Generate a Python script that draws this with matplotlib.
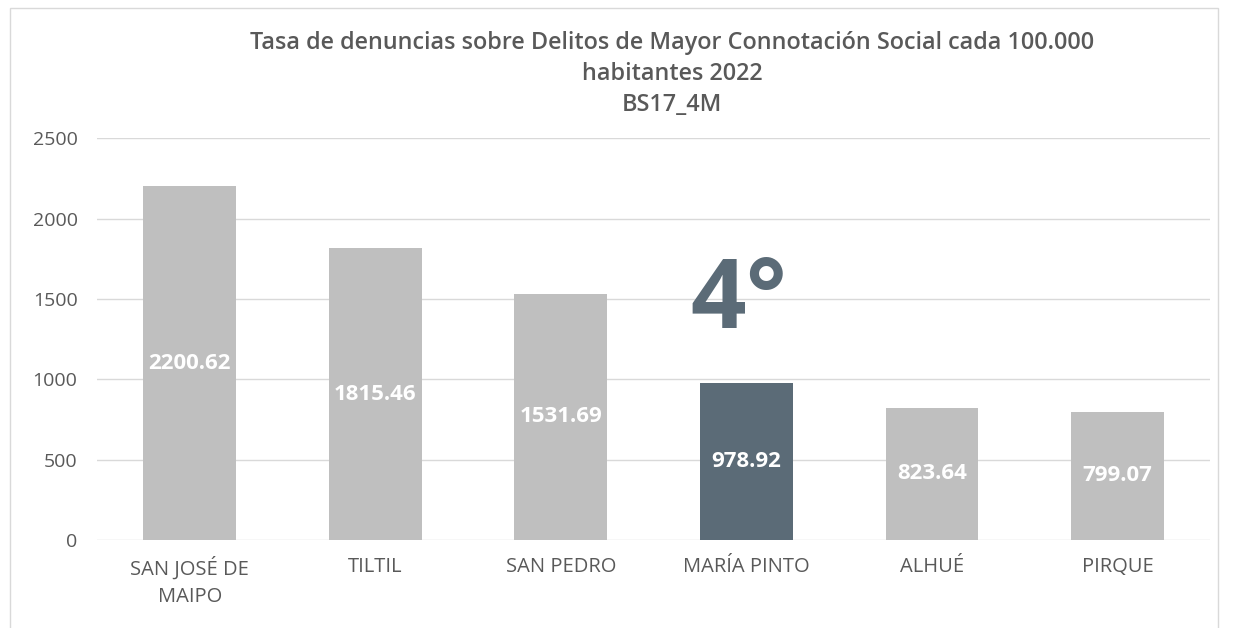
import numpy as np
import matplotlib.pyplot as plt
from matplotlib.patches import Rectangle

# Datos
comunas = ['SAN JOSÉ DE\nMAIPO', 'TILTIL', 'SAN PEDRO', 'MARÍA PINTO', 'ALHUÉ', 'PIRQUE']
tasas = [2200.62, 1815.46, 1531.69, 978.92, 823.64, 799.07]
destacada = 'MARÍA PINTO'
ranking = '4°'

gris = '#bfbfbf'
oscuro = '#5b6b77'
texto = '#595959'

plt.rcParams['font.family'] = ['Open Sans', 'DejaVu Sans']

fig = plt.figure(figsize=(12.35, 6.28), dpi=100)
ax = fig.add_axes([0.0785, 0.140, 0.9015, 0.640])

x = np.arange(len(comunas))
colores = [oscuro if c == destacada else gris for c in comunas]
barras = ax.bar(x, tasas, width=0.5, color=colores, zorder=3)

# Etiquetas de valor en el centro de cada barra
for b, v in zip(barras, tasas):
    ax.text(b.get_x() + b.get_width() / 2, v / 2, f'{v:.2f}',
            ha='center', va='center', color='white', fontsize=16,
            fontweight='bold', zorder=4)

# Posición en el ranking
i = comunas.index(destacada)
ax.text(x[i] - 0.04, 1320, ranking, ha='center', va='baseline',
        fontsize=70, fontweight='bold', color=oscuro, zorder=5)

ax.set_xlim(-0.5, len(comunas) - 0.5)
ax.set_ylim(0, 2500)
ax.set_yticks(np.arange(0, 2501, 500))
ax.set_xticks(x)
ax.set_xticklabels(comunas, fontsize=14.5, color=texto, linespacing=1.45)
ax.tick_params(axis='y', labelsize=14, labelcolor=texto, length=0, pad=14)
ax.tick_params(axis='x', length=0, pad=12)
ax.grid(axis='y', color='#d9d9d9', linewidth=1, zorder=0)
for s in ax.spines.values():
    s.set_visible(False)

fig.text(0.544, 0.95,
         'Tasa de denuncias sobre Delitos de Mayor Connotación Social cada 100.000\nhabitantes 2022\nBS17_4M',
         ha='center', va='top', fontsize=16.8, fontweight='semibold', color=texto, linespacing=1.38)

# Marco exterior
fig.patches.append(Rectangle((10 / 1235, -0.02), 1208 / 1235, 1.007, transform=fig.transFigure,
                             fill=False, edgecolor='#d9d9d9', linewidth=1))

fig.savefig('out.png', dpi=100)
